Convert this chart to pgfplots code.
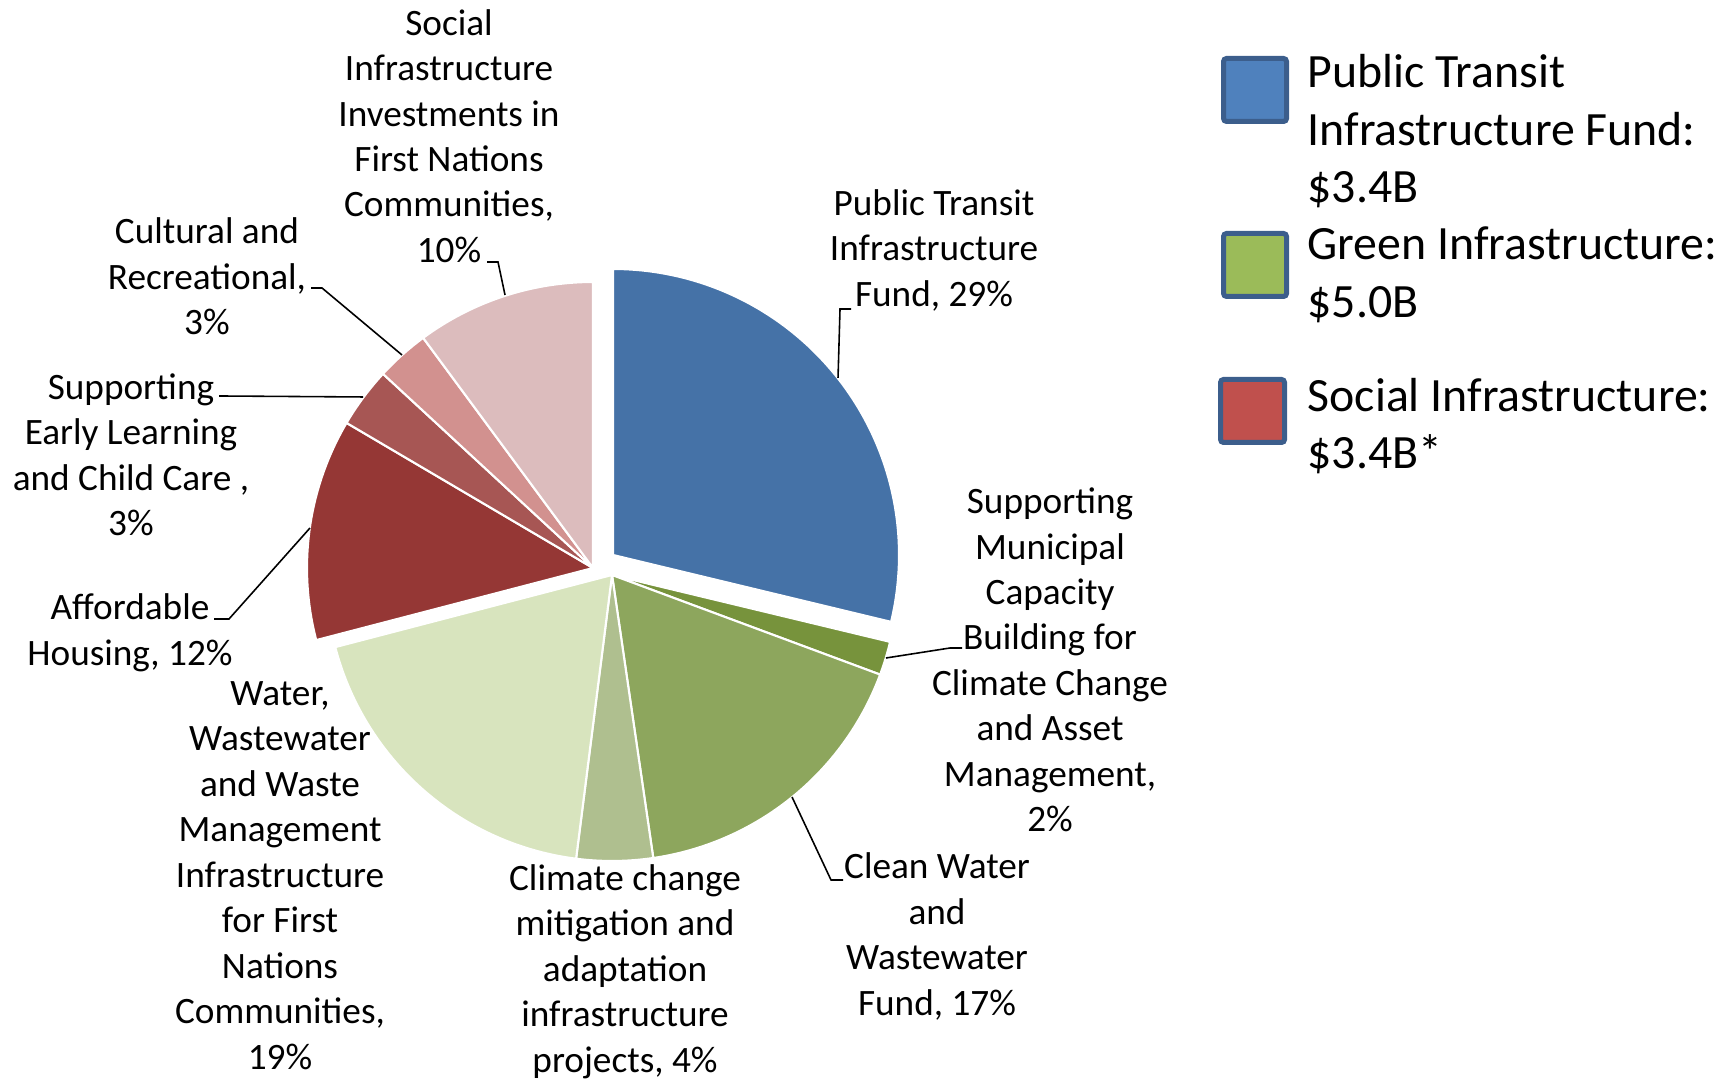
\documentclass[border=0pt]{standalone}
\usepackage{pgfplots}
\pgfplotsset{compat=1.18}
\usepackage{fontspec}
\setmainfont{Carlito}
\definecolor{cPT}{HTML}{4572A7}
\definecolor{cSMC}{HTML}{77933C}
\definecolor{cCW}{HTML}{8DA65D}
\definecolor{cCC}{HTML}{AFBF8F}
\definecolor{cWW}{HTML}{D8E4BE}
\definecolor{cAH}{HTML}{953735}
\definecolor{cEL}{HTML}{A75654}
\definecolor{cCR}{HTML}{D2918F}
\definecolor{cSF}{HTML}{DCBCBD}
\definecolor{lBlue}{HTML}{4F81BD}
\definecolor{lGreen}{HTML}{9BBB59}
\definecolor{lRed}{HTML}{C0504D}
\definecolor{lBorder}{HTML}{3C5E8C}
\newcommand\lbl{\fontsize{10.6}{12.94}\selectfont}
\newcommand\lgd{\fontsize{13.6}{16.35}\selectfont}
\def\piestart{90}
\def\pietotal{99.8}
\def\pierad{286}
\newcommand\pieslice[4]{%
  \pgfmathsetmacro\pieend{\piestart-#2*360/\pietotal}%
  \edef\pietemp{\noexpand\addplot[draw=white, line width=0.6pt, line join=round, fill=#1, domain=\pieend:\piestart, samples=90] ({#3+\pierad*cos(x)},{#4+\pierad*sin(x)}) -- (axis cs:#3,#4) -- cycle;}%
  \pietemp
  \global\let\piestart\pieend
}
\begin{document}
\begin{tikzpicture}
\useasboundingbox (0,0) rectangle (173.3mm,108mm);
\begin{axis}[x=0.1mm, y=0.1mm, xmin=0, xmax=1733, ymin=0, ymax=1080,
  hide axis, clip=false, anchor=south west, at={(0,0)}]
% values: share of total (percent)
\pieslice{cPT}{28.7}{613}{525}
\pieslice{cSMC}{1.9}{612}{505}
\pieslice{cCW}{17.0}{612}{505}
\pieslice{cCC}{4.3}{612}{505}
\pieslice{cWW}{18.9}{612}{505}
\pieslice{cAH}{12.5}{593}{512}
\pieslice{cEL}{3.4}{593}{512}
\pieslice{cCR}{3.0}{593}{512}
\pieslice{cSF}{10.1}{593}{512}
% leader lines
\draw[black, line width=0.45pt] (axis cs:851,771) -- (axis cs:840,771) -- (axis cs:838,702);
\draw[black, line width=0.45pt] (axis cs:962,432) -- (axis cs:950,432) -- (axis cs:886,422);
\draw[black, line width=0.45pt] (axis cs:843,200) -- (axis cs:831,200) -- (axis cs:792,283);
\draw[black, line width=0.45pt] (axis cs:214,461) -- (axis cs:229,461) -- (axis cs:310,552);
\draw[black, line width=0.45pt] (axis cs:219,684) -- (axis cs:363,683);
\draw[black, line width=0.45pt] (axis cs:311,792) -- (axis cs:322,792) -- (axis cs:402,725);
\draw[black, line width=0.45pt] (axis cs:487,818) -- (axis cs:498,818) -- (axis cs:505,785);
% data labels
\node[align=center, font=\lbl, inner sep=0pt] at (axis cs:934,830) {Public Transit\\Infrastructure\\Fund, 29\%};
\node[align=center, font=\lbl, inner sep=0pt] at (axis cs:1050,420) {Supporting\\Municipal\\Capacity\\Building for\\Climate Change\\and Asset\\Management,\\2\%};
\node[align=center, font=\lbl, inner sep=0pt] at (axis cs:937,143.5) {Clean Water\\and\\Wastewater\\Fund, 17\%};
\node[align=center, font=\lbl, inner sep=0pt] at (axis cs:625,108.5) {Climate change\\mitigation and\\adaptation\\infrastructure\\projects, 4\%};
\node[align=center, font=\lbl, inner sep=0pt] at (axis cs:280,204.5) {Water,\\Wastewater\\and Waste\\Management\\Infrastructure\\for First\\Nations\\Communities,\\19\%};
\node[align=center, font=\lbl, inner sep=0pt] at (axis cs:130,447) {Affordable\\Housing, 12\%};
\node[align=center, font=\lbl, inner sep=0pt] at (axis cs:131,625) {Supporting\\Early Learning\\and Child Care ,\\3\%};
\node[align=center, font=\lbl, inner sep=0pt] at (axis cs:207,803.5) {Cultural and\\Recreational,\\3\%};
\node[align=center, font=\lbl, inner sep=0pt] at (axis cs:449,944) {Social\\Infrastructure\\Investments in\\First Nations\\Communities,\\10\%};
% legend
\draw[lBorder, line width=0.5mm, fill=lBlue, rounded corners=0.3mm] (axis cs:1223.5,958.5) rectangle (axis cs:1286.5,1021.5);
\draw[lBorder, line width=0.5mm, fill=lGreen, rounded corners=0.3mm] (axis cs:1223.5,783.5) rectangle (axis cs:1286.5,846.5);
\draw[lBorder, line width=0.5mm, fill=lRed, rounded corners=0.3mm] (axis cs:1220.5,637.5) rectangle (axis cs:1284.5,700.5);
\node[align=left, font=\lgd, inner sep=0pt, anchor=west] at (axis cs:1307,948.5) {Public Transit\\Infrastructure Fund:\\\$3.4B};
\node[align=left, font=\lgd, inner sep=0pt, anchor=west] at (axis cs:1307,805) {Green Infrastructure:\\\$5.0B};
\node[align=left, font=\lgd, inner sep=0pt, anchor=west] at (axis cs:1307,654) {Social Infrastructure:\\\$3.4B*};
\end{axis}
\end{tikzpicture}
\end{document}
